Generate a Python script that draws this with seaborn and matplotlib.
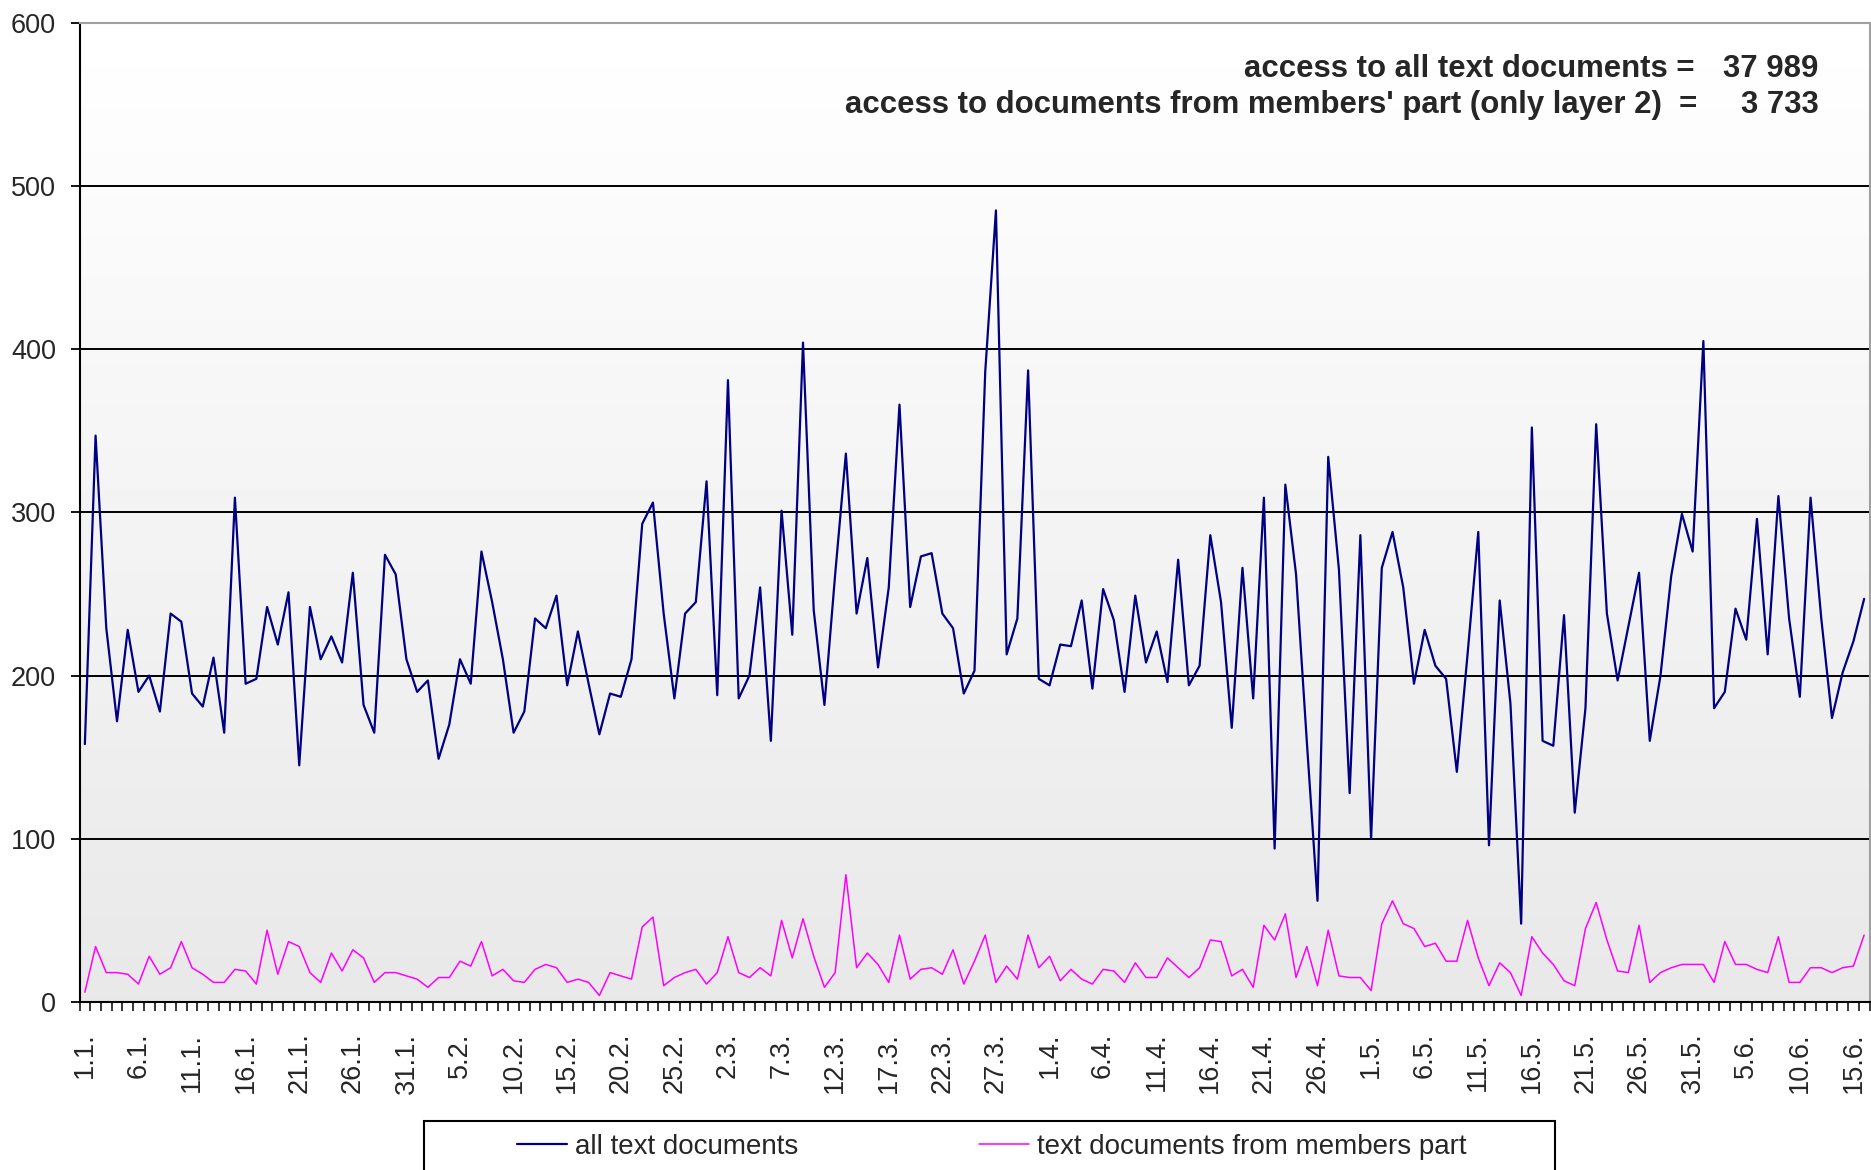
import numpy as np
import pandas as pd
import seaborn as sns
import matplotlib.pyplot as plt
from matplotlib.patches import Rectangle

# daily accesses, 1.1. - 16.6.
all_docs = [158, 347, 229, 172, 228, 190, 200, 178, 238, 233,
            189, 181, 211, 165, 309, 195, 198, 242, 219, 251,
            145, 242, 210, 224, 208, 263, 182, 165, 274, 262,
            210, 190, 197, 149, 170, 210, 195, 276, 245, 210,
            165, 178, 235, 229, 249, 194, 227, 195, 164, 189,
            187, 210, 293, 306, 238, 186, 238, 245, 319, 188,
            381, 186, 200, 254, 160, 301, 225, 404, 240, 182,
            262, 336, 238, 272, 205, 254, 366, 242, 273, 275,
            238, 229, 189, 203, 386, 485, 213, 235, 387, 198,
            194, 219, 218, 246, 192, 253, 234, 190, 249, 208,
            227, 196, 271, 194, 206, 286, 245, 168, 266, 186,
            309, 94, 317, 262, 160, 62, 334, 265, 128, 286,
            100, 266, 288, 254, 195, 228, 206, 198, 141, 213,
            288, 96, 246, 183, 48, 352, 160, 157, 237, 116,
            180, 354, 238, 197, 230, 263, 160, 200, 261, 299,
            276, 405, 180, 190, 241, 222, 296, 213, 310, 235,
            187, 309, 235, 174, 202, 221, 247]

member_docs = [6, 34, 18, 18, 17, 11, 28, 17, 21, 37,
               21, 17, 12, 12, 20, 19, 11, 44, 17, 37,
               34, 18, 12, 30, 19, 32, 27, 12, 18, 18,
               16, 14, 9, 15, 15, 25, 22, 37, 16, 20,
               13, 12, 20, 23, 21, 12, 14, 12, 4, 18,
               16, 14, 46, 52, 10, 15, 18, 20, 11, 18,
               40, 18, 15, 21, 16, 50, 27, 51, 28, 9,
               18, 78, 21, 30, 23, 12, 41, 14, 20, 21,
               17, 32, 11, 25, 41, 12, 22, 14, 41, 21,
               28, 13, 20, 14, 11, 20, 19, 12, 24, 15,
               15, 27, 21, 15, 21, 38, 37, 16, 20, 9,
               47, 38, 54, 15, 34, 10, 44, 16, 15, 15,
               7, 48, 62, 48, 45, 34, 36, 25, 25, 50,
               27, 10, 24, 18, 4, 40, 30, 23, 13, 10,
               45, 61, 38, 19, 18, 47, 12, 18, 21, 23,
               23, 23, 12, 37, 23, 23, 20, 18, 40, 12,
               12, 21, 21, 18, 21, 22, 41]

start_day = "2001-01-01"
label_step = 5
y_ticks = [0, 100, 200, 300, 400, 500, 600]
series_names = ["all text documents", "text documents from members part"]
total_all = "37 989"
total_members = "3 733"

n = len(all_docs)
days = pd.date_range(start_day, periods=n, freq="D")
day_labels = [f"{d.day}.{d.month}." for d in days]
df = pd.DataFrame({"day": np.arange(n), "all": all_docs, "members": member_docs})

sns.set_style("white")
plt.rcParams["font.family"] = ["Liberation Sans", "DejaVu Sans"]

W, H = 1871, 1170
fig = plt.figure(figsize=(W / 100, H / 100), dpi=100)
ax = fig.add_axes([79.5 / W, 1 - 1002 / H, (1869.5 - 79.5) / W, (1002 - 22.7) / H])

# light gradient background like the old Excel chart
grad = np.linspace(1.0, 0.91, 256).reshape(-1, 1)
ax.imshow(grad, cmap="gray", vmin=0, vmax=1, aspect="auto",
          extent=[0, 1, 0, 1], transform=ax.transAxes, zorder=0)

for v in y_ticks[1:-1]:
    ax.axhline(v, color="black", lw=1.4, zorder=1)

sns.lineplot(data=df, x="day", y="all", color="#000080", lw=1.6,
             label=series_names[0], ax=ax, zorder=3)
sns.lineplot(data=df, x="day", y="members", color="#ff00ff", lw=1.1,
             label=series_names[1], ax=ax, zorder=3)

ax.set_xlim(-0.5, n - 0.5)
ax.set_ylim(y_ticks[0], y_ticks[-1])
ax.set_yticks(y_ticks)
ax.set_xticks(range(0, n, label_step))
ax.set_xticklabels(day_labels[::label_step], rotation=90,
                   rotation_mode="anchor", ha="right", va="center")
ax.set_xticks(np.arange(-0.5, n, 1), minor=True)
ax.set_xlabel("")
ax.set_ylabel("")

ax.tick_params(axis="x", which="major", length=0, pad=22, labelsize=19.5)
ax.tick_params(axis="x", which="minor", length=6.5, width=1.1,
               direction="out", color="black", bottom=True)
ax.tick_params(axis="y", length=6.5, width=1.3, direction="out",
               color="black", pad=10.5, labelsize=19.5, left=True)

for side in ["left", "bottom"]:
    ax.spines[side].set_color("black")
    ax.spines[side].set_linewidth(1.5)
for side in ["top", "right"]:
    ax.spines[side].set_color("#a0a0a0")
    ax.spines[side].set_linewidth(1.5)

# totals in the upper right corner
fs_note = 22.4
fig.text(1694 / W, 1 - 77 / H, "access to all text documents =",
         ha="right", va="baseline", fontsize=fs_note, fontweight="bold")
fig.text(1818 / W, 1 - 77 / H, total_all,
         ha="right", va="baseline", fontsize=fs_note, fontweight="bold")
fig.text(1697 / W, 1 - 113 / H,
         "access to documents from members' part (only layer 2)  =",
         ha="right", va="baseline", fontsize=fs_note, fontweight="bold")
fig.text(1819 / W, 1 - 113 / H, total_members,
         ha="right", va="baseline", fontsize=fs_note, fontweight="bold")

# legend box, cut off by the bottom edge
box = Rectangle((424 / W, -0.05), (1555 - 424) / W, (1170 - 1121) / H + 0.05,
                transform=fig.transFigure, facecolor="white",
                edgecolor="black", lw=1.5, zorder=-1)
fig.add_artist(box)

handles, labels = ax.get_legend_handles_labels()
ax.legend(handles, labels, loc="center left",
          bbox_to_anchor=(517 / W, 1 - 1147 / H), bbox_transform=fig.transFigure,
          frameon=False, ncol=2, handlelength=1.8, handletextpad=0.3,
          columnspacing=6.5, borderpad=0, borderaxespad=0, fontsize=20)

plt.savefig("out.png", dpi=100)
